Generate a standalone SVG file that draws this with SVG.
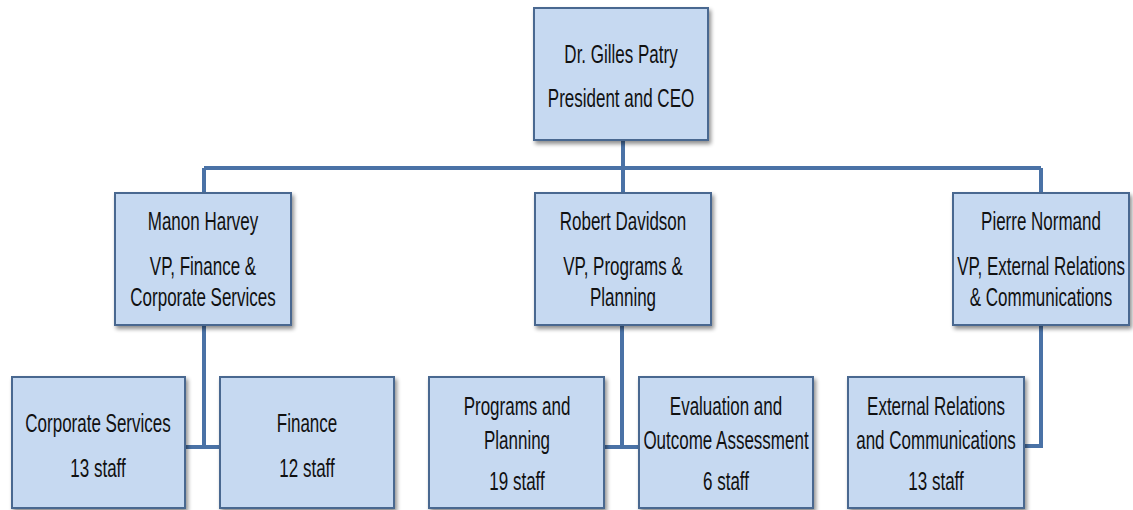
<svg xmlns="http://www.w3.org/2000/svg" width="1133" height="510" viewBox="0 0 1133 510">
<defs>
<filter id="sh" x="-10%" y="-10%" width="125%" height="125%">
<feGaussianBlur in="SourceAlpha" stdDeviation="2"/>
<feOffset dx="2" dy="3" result="b"/>
<feComponentTransfer><feFuncA type="linear" slope="0.45"/></feComponentTransfer>
<feMerge><feMergeNode/><feMergeNode in="SourceGraphic"/></feMerge>
</filter>
</defs>
<style>
.box{fill:#c6d9f1;stroke:#4a6890;stroke-width:2;filter:url(#sh)}
.t{font-family:"Liberation Sans",Arial,sans-serif;font-size:25px;fill:#111;text-anchor:middle}
.c{fill:none;stroke:#4a72a6;stroke-width:4}
</style>
<rect width="1133" height="510" fill="#fff"/>
<g id="connectors">
<path class="c" d="M623 140V168M204 168H1041M204 168V193M623 168V193M1041 168V193"/>
<path class="c" d="M204 325V447M185 447H220"/>
<path class="c" d="M622 325V447M604 447H639"/>
<path class="c" d="M1041 325V446H1024"/>
</g>
<g id="ceo">
<rect class="box" x="534" y="8" width="174" height="132"/>
<text class="t" transform="translate(621 63) scale(0.68 1)">Dr. Gilles Patry</text>
<text class="t" transform="translate(621 107) scale(0.68 1)">President and CEO</text>
</g>
<g id="vp-finance">
<rect class="box" x="115" y="193" width="176" height="132"/>
<text class="t" transform="translate(203 230) scale(0.68 1)">Manon Harvey</text>
<text class="t" transform="translate(203 275) scale(0.68 1)">VP, Finance &amp;</text>
<text class="t" transform="translate(203 306) scale(0.68 1)">Corporate Services</text>
</g>
<g id="vp-programs">
<rect class="box" x="535" y="193" width="176" height="132"/>
<text class="t" transform="translate(623 230) scale(0.68 1)">Robert Davidson</text>
<text class="t" transform="translate(623 275) scale(0.68 1)">VP, Programs &amp;</text>
<text class="t" transform="translate(623 306) scale(0.68 1)">Planning</text>
</g>
<g id="vp-external">
<rect class="box" x="953" y="193" width="176" height="132"/>
<text class="t" transform="translate(1041 230) scale(0.68 1)">Pierre Normand</text>
<text class="t" transform="translate(1041 275) scale(0.68 1)">VP, External Relations</text>
<text class="t" transform="translate(1041 306) scale(0.68 1)">&amp; Communications</text>
</g>
<g id="corporate-services">
<rect class="box" x="12" y="377" width="173" height="131"/>
<text class="t" transform="translate(98 432) scale(0.68 1)">Corporate Services</text>
<text class="t" transform="translate(98 477) scale(0.68 1)">13 staff</text>
</g>
<g id="finance">
<rect class="box" x="220" y="377" width="174" height="131"/>
<text class="t" transform="translate(307 432) scale(0.68 1)">Finance</text>
<text class="t" transform="translate(307 477) scale(0.68 1)">12 staff</text>
</g>
<g id="programs-planning">
<rect class="box" x="429" y="377" width="175" height="131"/>
<text class="t" transform="translate(517 415) scale(0.68 1)">Programs and</text>
<text class="t" transform="translate(517 449) scale(0.68 1)">Planning</text>
<text class="t" transform="translate(517 490) scale(0.68 1)">19 staff</text>
</g>
<g id="evaluation">
<rect class="box" x="639" y="377" width="174" height="131"/>
<text class="t" transform="translate(726 415) scale(0.68 1)">Evaluation and</text>
<text class="t" transform="translate(726 449) scale(0.68 1)">Outcome Assessment</text>
<text class="t" transform="translate(726 490) scale(0.68 1)">6 staff</text>
</g>
<g id="external-relations">
<rect class="box" x="848" y="377" width="176" height="131"/>
<text class="t" transform="translate(936 415) scale(0.68 1)">External Relations</text>
<text class="t" transform="translate(936 449) scale(0.68 1)">and Communications</text>
<text class="t" transform="translate(936 490) scale(0.68 1)">13 staff</text>
</g>
</svg>
